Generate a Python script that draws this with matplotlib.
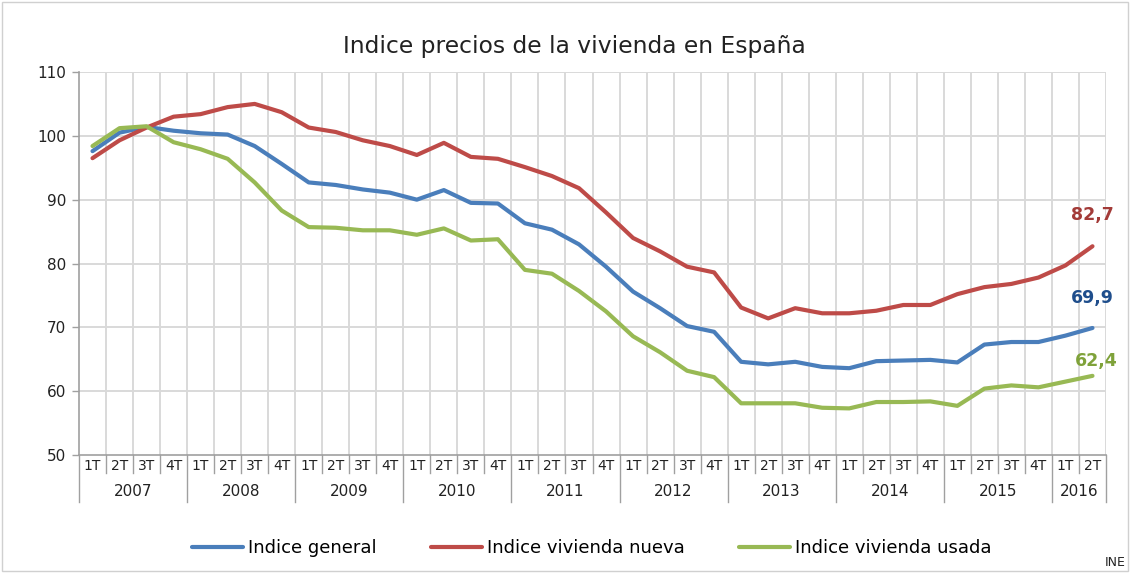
import matplotlib
matplotlib.use("Agg")
import matplotlib.pyplot as plt
from matplotlib.patches import Rectangle
import numpy as np

years = ["2007", "2008", "2009", "2010", "2011", "2012", "2013", "2014", "2015", "2016"]
quarters = ["1T", "2T", "3T", "4T"]
quarters_per_year = [4, 4, 4, 4, 4, 4, 4, 4, 4, 2]

indice_general = [97.6, 100.5, 101.4, 100.8, 100.4, 100.2, 98.4, 95.6,
                  92.7, 92.3, 91.6, 91.1, 90.0, 91.5, 89.5, 89.4,
                  86.3, 85.3, 83.0, 79.5, 75.6, 73.0, 70.2, 69.3,
                  64.6, 64.2, 64.6, 63.8, 63.6, 64.7, 64.8, 64.9,
                  64.5, 67.3, 67.7, 67.7, 68.7, 69.9]
indice_nueva = [96.5, 99.3, 101.3, 103.0, 103.4, 104.5, 105.0, 103.7,
                101.3, 100.6, 99.3, 98.4, 97.0, 98.9, 96.7, 96.4,
                95.1, 93.7, 91.8, 88.0, 84.0, 81.9, 79.5, 78.6,
                73.1, 71.4, 73.0, 72.2, 72.2, 72.6, 73.5, 73.5,
                75.2, 76.3, 76.8, 77.8, 79.7, 82.7]
indice_usada = [98.4, 101.2, 101.5, 99.0, 97.9, 96.4, 92.7, 88.3,
                85.7, 85.6, 85.2, 85.2, 84.5, 85.5, 83.6, 83.8,
                79.0, 78.4, 75.7, 72.5, 68.6, 66.1, 63.2, 62.2,
                58.1, 58.1, 58.1, 57.4, 57.3, 58.3, 58.3, 58.4,
                57.7, 60.4, 60.9, 60.6, 61.5, 62.4]

series = [
    ("Indice general", indice_general, "#4A7EBB", "#1F4E8C", "69,9"),
    ("Indice vivienda nueva", indice_nueva, "#BE4B48", "#A33B38", "82,7"),
    ("Indice vivienda usada", indice_usada, "#98B954", "#7FA23A", "62,4"),
]

plt.rcParams['font.family'] = ['DejaVu Sans']

W, H = 1130, 573
fig = plt.figure(figsize=(W / 100, H / 100), dpi=100)
fig.patch.set_facecolor("white")
fig.patches.append(Rectangle((2 / W, 2 / H), 1 - 4 / W, 1 - 4 / H, transform=fig.transFigure,
                             fill=False, edgecolor="#D0D0D0", linewidth=1))

left, right, top, bottom = 79, 1106, 72, 455
ax = fig.add_axes([left / W, 1 - bottom / H, (right - left) / W, (bottom - top) / H])

n = len(indice_general)
x = np.arange(n) + 0.5
handles = []
for name, vals, color, lcolor, lab in series:
    h, = ax.plot(x, vals, color=color, linewidth=3.0, solid_capstyle="round",
                 solid_joinstyle="round", label=name, zorder=3)
    handles.append(h)

ax.set_xlim(0, n)
ax.set_ylim(50, 110)
ax.set_yticks(np.arange(50, 111, 10))
ax.tick_params(axis="y", labelsize=11, length=5, color="#A0A0A0", width=1, pad=4, labelcolor="#222222")
ax.set_xticks([])
for b in range(1, n + 1):
    ax.axvline(b, color="#D9D9D9", linewidth=1.4, zorder=1)
for yv in range(60, 111, 10):
    ax.axhline(yv, color="#D9D9D9", linewidth=1.4, zorder=1)
for s in ["top", "right"]:
    ax.spines[s].set_visible(False)
ax.spines["left"].set_color("#A0A0A0")
ax.spines["bottom"].set_color("#A0A0A0")
ax.spines["left"].set_linewidth(1.2)
ax.spines["bottom"].set_linewidth(1.2)

# multi-level category axis
trans = ax.get_xaxis_transform()
hpx = bottom - top
q_end = -(473 - bottom) / hpx
y_end = -(502 - bottom) / hpx
q_lab = -(466 - bottom) / hpx
y_lab = -(492 - bottom) / hpx
pos = 0
boundaries_year = [0]
for yi, (yr, nq) in enumerate(zip(years, quarters_per_year)):
    for qi in range(nq):
        ax.text(pos + qi + 0.5, q_lab, quarters[qi], transform=trans, ha="center", va="center",
                fontsize=10, color="#222222")
        if qi > 0:
            ax.plot([pos + qi, pos + qi], [0, q_end], transform=trans, color="#A0A0A0",
                    linewidth=1, clip_on=False)
    ax.text(pos + nq / 2, y_lab, yr, transform=trans, ha="center", va="center",
            fontsize=11, color="#222222")
    pos += nq
    boundaries_year.append(pos)
for b in boundaries_year:
    ax.plot([b, b], [0, y_end], transform=trans, color="#A0A0A0", linewidth=1, clip_on=False)

# end labels
offsets = {"82,7": (0, 16), "69,9": (0, 15), "62,4": (3, 4)}
for name, vals, color, lcolor, lab in series:
    ax.annotate(lab, (x[-1], vals[-1]), xytext=offsets[lab], textcoords="offset points",
                ha="center", va="bottom", fontsize=12.5, fontweight="bold", color=lcolor)

fig.text(574 / W, 1 - 47 / H, "Indice precios de la vivienda en España", ha="center", va="center",
         fontsize=16.8, color="#222222")

fig.legend(handles=handles, loc="center", bbox_to_anchor=(592 / W, 1 - 548 / H), ncol=3,
           frameon=False, fontsize=13, handlelength=2.8, handletextpad=0.3, columnspacing=3.0)

fig.text(1115 / W, 1 - 562 / H, "INE", ha="center", va="center", fontsize=9, color="#222222")

fig.savefig("out.png", dpi=100)
